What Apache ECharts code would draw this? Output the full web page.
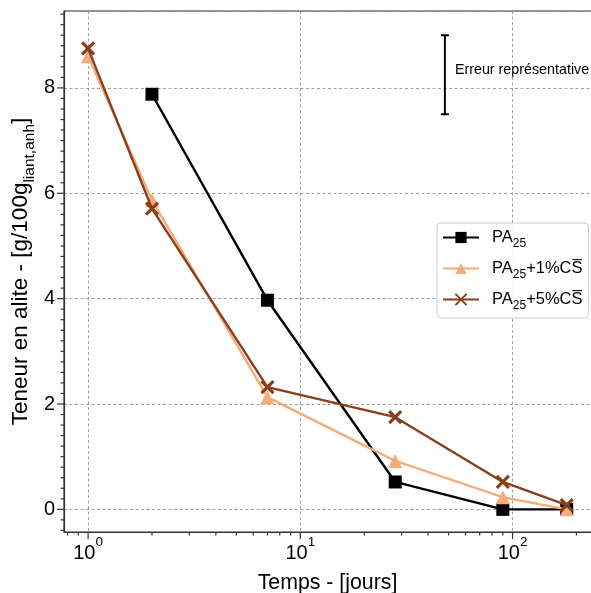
<!DOCTYPE html>
<html>
<head>
<meta charset="utf-8">
<script src="https://cdn.jsdelivr.net/npm/echarts@6/dist/echarts.min.js"></script>
<style>
html,body{margin:0;padding:0;background:#fff;}
#chart{width:591px;height:593px;}
</style>
</head>
<body>
<div id="chart"></div>
<script>
// ---- data ----
const days = [1, 2, 7, 28, 90, 180];
const pa25 = [null, 7.88, 3.97, 0.52, 0.0, 0.0];
const pa25cs1 = [8.60, 5.87, 2.13, 0.92, 0.23, 0.0];
const pa25cs5 = [8.75, 5.71, 2.32, 1.75, 0.52, 0.08];
const seriesNames = ['PA25', 'PA25+1%CS', 'PA25+5%CS'];
const yTickLabels = [0, 2, 4, 6, 8];
const xTickLabels = [1, 10, 100];
const errorBar = [[48, 7.5, 9.0]];
const errorLabel = 'Erreur représentative';

const X_MIN = 0.77, X_MAX = 250, Y_MIN = -0.43, Y_MAX = 9.46;
const FONT = "'Liberation Sans', Arial, Helvetica, sans-serif";

function pairs(arr) {
  const out = [];
  arr.forEach((v, i) => { if (v !== null) out.push([days[i], v]); });
  return out;
}

// tick positions (axis decoration)
const xMinorTicks = [];
for (let e = -1; e <= 2; e++) {
  for (let d = 2; d <= 9; d++) {
    const v = d * Math.pow(10, e);
    if (v >= X_MIN && v <= X_MAX) xMinorTicks.push(v);
  }
}
const xTickData = xTickLabels.map(v => [v, 7]).concat(xMinorTicks.map(v => [v, 3.5]));
const yTickData = [];
for (let k = -2; k <= 47; k++) {
  const v = Math.round(k * 0.2 * 10) / 10;
  if (v < Y_MIN || v > Y_MAX) continue;
  const major = yTickLabels.indexOf(v) >= 0;
  yTickData.push([v, major ? 7 : 3.5]);
}

const legendLabels = {
  'PA25': '{a|PA}{s|25}',
  'PA25+1%CS': '{a|PA}{s|25}{a|+1%CS\u0305}',
  'PA25+5%CS': '{a|PA}{s|25}{a|+5%CS\u0305}'
};

const chart = echarts.init(document.getElementById('chart'), null, {renderer: 'canvas'});
const xSym = 'path://M0,0L10,10M10,0L0,10';
const tickStyle = {stroke: '#333', lineWidth: 1.2};

const option = {
  animation: false,
  backgroundColor: '#fff',
  textStyle: {fontFamily: FONT},
  grid: {
    left: 64, top: 11, right: -6, bottom: 61,
    outerBoundsMode: 'none', containLabel: false,
    show: true, borderColor: '#333', borderWidth: 1.2, backgroundColor: 'transparent'
  },
  legend: {
    orient: 'vertical',
    left: 437, top: 223,
    data: seriesNames,
    itemWidth: 36, itemHeight: 14, itemGap: 6,
    padding: [2, 6, 6, 5],
    backgroundColor: 'rgba(255,255,255,0.9)',
    borderColor: '#cccccc', borderWidth: 1, borderRadius: 4,
    formatter: n => legendLabels[n],
    textStyle: {
      fontFamily: FONT, color: '#000', padding: [0, 0, 0, 8],
      rich: {
        a: {fontSize: 16.5, lineHeight: 25, fontFamily: FONT, color: '#000'},
        s: {fontSize: 12, lineHeight: 12, padding: [13, 0, 0, 0], fontFamily: FONT, color: '#000'}
      }
    }
  },
  xAxis: {
    type: 'log', logBase: 10, min: X_MIN, max: X_MAX,
    axisLine: {onZero: false, lineStyle: {color: '#333', width: 1.2}},
    axisTick: {show: false},
    splitLine: {show: true, lineStyle: {color: '#888', width: 0.8, type: [3, 2.5]}},
    axisLabel: {
      margin: 7.5, hideOverlap: false,
      formatter: v => {
        const e = Math.round(Math.log10(v));
        if (Math.abs(Math.log10(v) - e) > 1e-6) return '';
        return '{n|10}{p|' + e + '}';
      },
      rich: {
        n: {fontSize: 20, lineHeight: 19, padding: [8, 0, 0, 0], fontFamily: FONT, color: '#000'},
        p: {fontSize: 13.5, lineHeight: 13, padding: [0, 0, 14, 0], fontFamily: FONT, color: '#000'}
      }
    },
    name: 'Temps - [jours]',
    nameLocation: 'middle', nameGap: 41, nameMoveOverlap: false,
    nameTextStyle: {fontSize: 21.3, lineHeight: 20, color: '#000', fontFamily: FONT, padding: [0, 6, 0, 0]}
  },
  yAxis: {
    type: 'value', min: Y_MIN, max: Y_MAX,
    axisLine: {show: true, onZero: false, lineStyle: {color: '#333', width: 1.2}},
    axisTick: {show: false},
    splitLine: {show: true, lineStyle: {color: '#888', width: 0.8, type: [3, 2.5]}},
    axisLabel: {
      margin: 9, fontSize: 20, color: '#000', fontFamily: FONT,
      formatter: v => (yTickLabels.some(t => Math.abs(t - v) < 1e-6) ? String(Math.round(v)) : '')
    },
    name: '{a|Teneur en alite - [g/100g}{s|liant,anh}{a|]}',
    nameLocation: 'middle', nameGap: 27, nameMoveOverlap: false,
    nameTextStyle: {
      color: '#000', fontFamily: FONT,
      rich: {
        a: {fontSize: 22.5, lineHeight: 32, fontFamily: FONT, color: '#000'},
        s: {fontSize: 15.5, lineHeight: 15, padding: [18, 0, 0, 0], fontFamily: FONT, color: '#000'}
      }
    }
  },
  series: [
    {
      name: 'PA25', type: 'line', data: pairs(pa25),
      symbol: 'rect', symbolSize: 13, showAllSymbol: true,
      lineStyle: {color: '#000', width: 2.4},
      itemStyle: {color: '#000', borderColor: '#000', borderWidth: 0},
      z: 3
    },
    {
      name: 'PA25+1%CS', type: 'line', data: pairs(pa25cs1),
      symbol: 'triangle', symbolSize: 14,
      lineStyle: {color: '#f5ac7a', width: 2.4},
      itemStyle: {color: '#f5ac7a', borderWidth: 0},
      z: 4
    },
    {
      name: 'PA25+5%CS', type: 'line', data: pairs(pa25cs5),
      symbol: xSym, symbolSize: 12,
      lineStyle: {color: '#8b3e1a', width: 2.4},
      itemStyle: {color: '#8b3e1a', borderColor: '#8b3e1a', borderWidth: 3.2},
      z: 5
    },
    {
      name: 'errorbar', type: 'custom', data: errorBar, silent: true, z: 6,
      renderItem: (params, api) => {
        const x = api.value(0);
        const lo = api.coord([x, api.value(1)]);
        const hi = api.coord([x, api.value(2)]);
        const mid = api.coord([x, 8.33]);
        const s = {stroke: '#000', lineWidth: 2};
        return {type: 'group', children: [
          {type: 'line', shape: {x1: lo[0], y1: lo[1], x2: hi[0], y2: hi[1]}, style: s},
          {type: 'line', shape: {x1: lo[0] - 4, y1: lo[1], x2: lo[0] + 4, y2: lo[1]}, style: s},
          {type: 'line', shape: {x1: hi[0] - 4, y1: hi[1], x2: hi[0] + 4, y2: hi[1]}, style: s},
          {type: 'text', x: mid[0] + 10, y: mid[1], style: {text: errorLabel, fill: '#000', font: '14.3px ' + FONT, textAlign: 'left', textVerticalAlign: 'middle'}}
        ]};
      }
    },
    {
      name: 'xticks', type: 'custom', data: xTickData, silent: true, clip: false,
      renderItem: (params, api) => {
        const p = api.coord([api.value(0), Y_MIN]);
        return {type: 'line', shape: {x1: p[0], y1: p[1], x2: p[0], y2: p[1] + api.value(1)}, style: tickStyle};
      }
    },
    {
      name: 'yticks', type: 'custom', data: yTickData, silent: true, clip: false,
      encode: {x: 1, y: 0},
      renderItem: (params, api) => {
        const p = api.coord([X_MIN, api.value(0)]);
        return {type: 'line', shape: {x1: p[0], y1: p[1], x2: p[0] - api.value(1), y2: p[1]}, style: tickStyle};
      }
    }
  ]
};
chart.setOption(option);
</script>
</body>
</html>
